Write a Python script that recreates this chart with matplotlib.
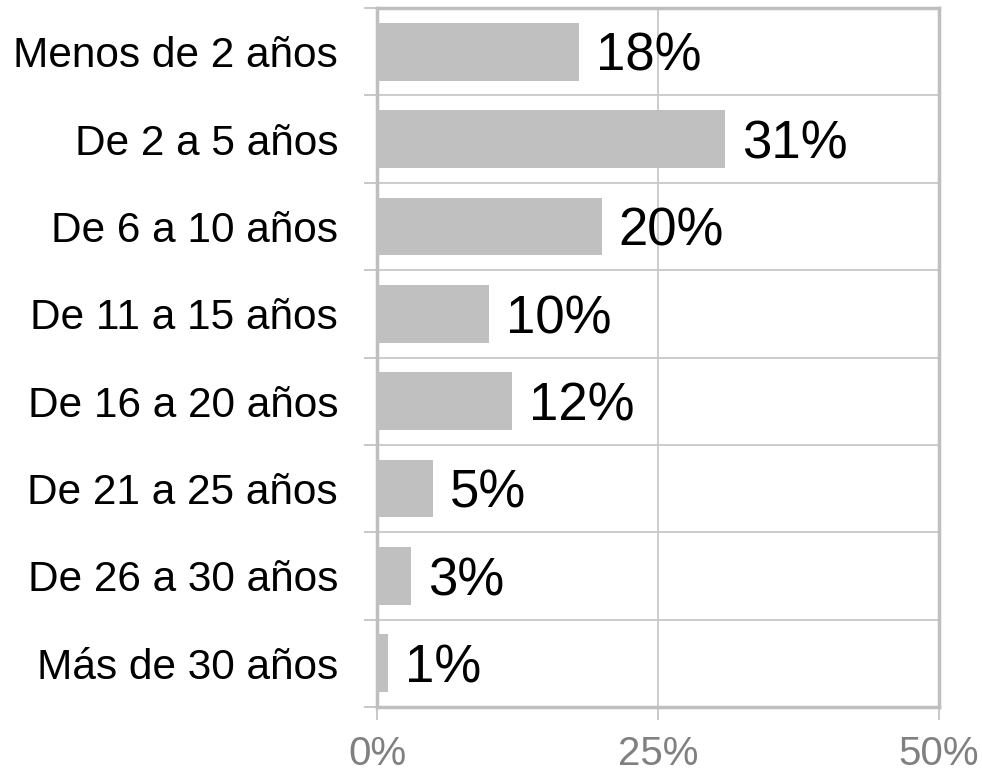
import matplotlib
matplotlib.use("Agg")
import matplotlib.pyplot as plt
import numpy as np

categories = ["Menos de 2 años", "De 2 a 5 años", "De 6 a 10 años", "De 11 a 15 años",
              "De 16 a 20 años", "De 21 a 25 años", "De 26 a 30 años", "Más de 30 años"]
values = [18, 31, 20, 10, 12, 5, 3, 1]
xticks = [0, 25, 50]
xticklabels = ["0%", "25%", "50%"]

plt.rcParams['font.family'] = ['Liberation Sans', 'DejaVu Sans']

fig = plt.figure(figsize=(9.82, 7.74), dpi=100)
ax = fig.add_axes([377/982, 1-707/774, (939-377)/982, 699/774])

y = np.arange(len(categories))
ax.barh(y, values, height=0.66, color='#C0C0C0', zorder=3)
ax.set_ylim(len(categories)-0.5, -0.5)
ax.set_xlim(0, 50)

for yi, v in zip(y, values):
    ax.text(v + 1.5, yi + 0.06, f"{v}%", va='center', ha='left', fontsize=38, color='black', zorder=4)

ax.set_yticks(y)
ax.set_yticklabels(categories, fontsize=30.5, color='black')
ax.set_yticks(np.arange(-0.5, len(categories)), minor=True)
ax.tick_params(axis='y', which='major', length=0, pad=28)
ax.tick_params(axis='y', which='minor', length=9.5, width=1.2, color='#BFBFBF')

ax.set_xticks(xticks)
ax.set_xticklabels(xticklabels, fontsize=29, color='#808080')
ax.tick_params(axis='x', which='major', length=9, width=1.2, color='#BFBFBF', pad=11)

ax.grid(True, axis='x', which='major', color='#C8C8C8', linewidth=1.3, zorder=0)
ax.grid(True, axis='y', which='minor', color='#C8C8C8', linewidth=1.3, zorder=0)
ax.grid(False, axis='y', which='major')

for s in ax.spines.values():
    s.set_color('#BFBFBF')
    s.set_linewidth(2.5)

fig.savefig("out.png", dpi=100, facecolor='white')
